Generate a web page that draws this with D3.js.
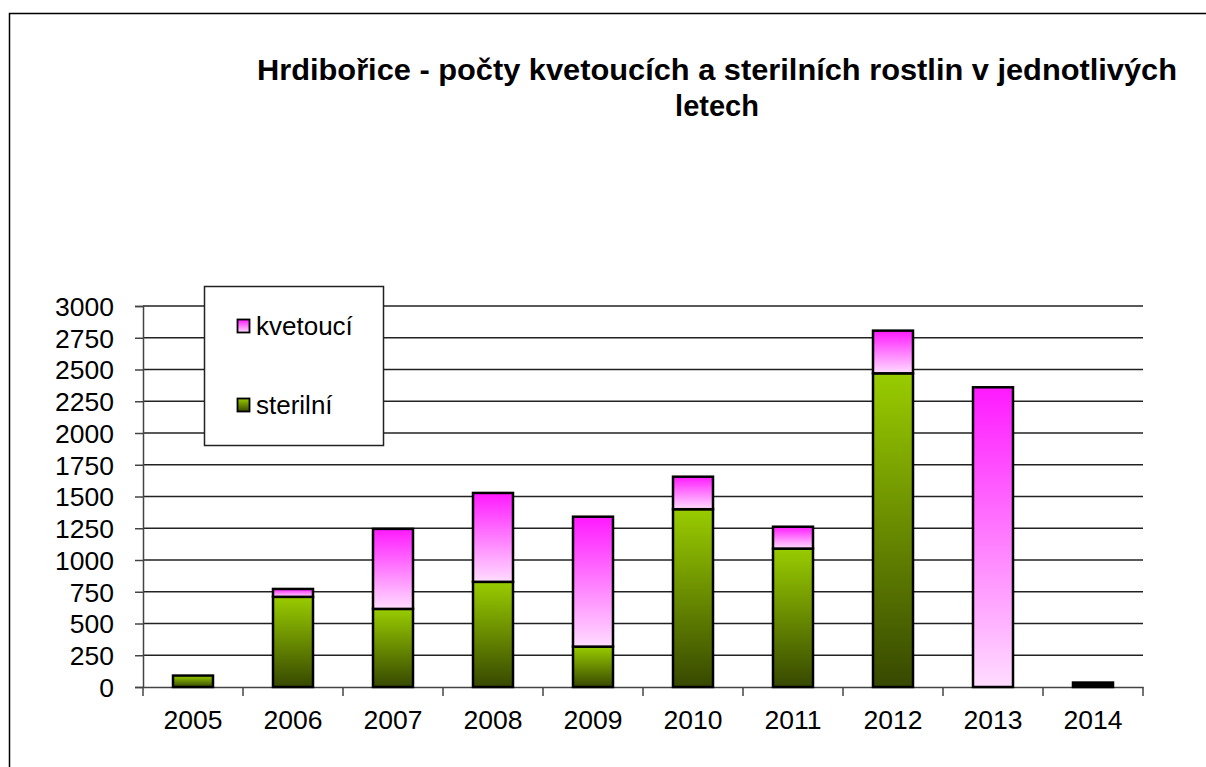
<!DOCTYPE html>
<html><head><meta charset="utf-8">
<script src="https://cdn.jsdelivr.net/npm/d3@7"></script>
<style>body{margin:0;background:#fff}svg{display:block}text{font-family:"Liberation Sans",Arial,sans-serif}</style>
</head><body>
<svg id="c" width="1206" height="767"></svg>
<script>
const years = ["2005","2006","2007","2008","2009","2010","2011","2012","2013","2014"];
const sterilni = [90, 710, 615, 828, 318, 1400, 1090, 2470, 0, 35];
const kvetouci = [0, 62, 630, 700, 1023, 256, 172, 336, 2360, 0];
const yTicks = [0,250,500,750,1000,1250,1500,1750,2000,2250,2500,2750,3000];
const seriesNames = ["kvetoucí","sterilní"];
const titleLines = ["Hrdibořice - počty kvetoucích a sterilních rostlin v jednotlivých","letech"];

const svg = d3.select("#c");
const defs = svg.append("defs");
function grad(id, top, bottom){
  const g = defs.append("linearGradient").attr("id",id).attr("x1",0).attr("y1",0).attr("x2",0).attr("y2",1);
  g.append("stop").attr("offset","0%").attr("stop-color",top);
  g.append("stop").attr("offset","100%").attr("stop-color",bottom);
}
grad("gK","#ff1aff","#ffdcff");
grad("gS","#99cc00","#374800");

// outer frame
svg.append("rect").attr("x",9.5).attr("y",13.5).attr("width",1210).attr("height",800)
  .attr("fill","none").attr("stroke","#000").attr("stroke-width",1.5);

const m = {l:143, r:1143, t:306, b:687};
const x = d3.scaleBand().domain(years).range([m.l,m.r]).paddingInner(0.6).paddingOuter(0.3);
const y = d3.scaleLinear().domain([0,3000]).range([m.b,m.t]);

// gridlines
svg.append("g").selectAll("line").data(yTicks.filter(d=>d>0)).join("line")
  .attr("x1",m.l).attr("x2",m.r).attr("y1",d=>y(d)).attr("y2",d=>y(d))
  .attr("stroke","#222").attr("stroke-width",1.3);

// y axis
const ya = svg.append("g").attr("transform",`translate(${m.l},0)`)
  .call(d3.axisLeft(y).tickValues(yTicks).tickSize(8).tickPadding(21).tickFormat(d3.format("d")));
ya.select(".domain").attr("stroke","#444").attr("stroke-width",1.5);
ya.selectAll(".tick line").attr("stroke","#444").attr("stroke-width",1.5);
ya.selectAll("text").attr("font-size",26.5).attr("fill","#000").attr("dy","0.35em");

// x axis
const xa = svg.append("g").attr("transform",`translate(0,${m.b})`)
  .call(d3.axisBottom(x).tickSize(0).tickPadding(23));
xa.select(".domain").attr("stroke","#444").attr("stroke-width",1.5);
xa.selectAll("text").attr("font-size",26.5).attr("fill","#000");
const step = x.step();
svg.append("g").selectAll("line").data(d3.range(years.length+1)).join("line")
  .attr("x1",i=>m.l+i*step).attr("x2",i=>m.l+i*step).attr("y1",m.b).attr("y2",m.b+9)
  .attr("stroke","#444").attr("stroke-width",1.5);

// bars
const data = years.map((yr,i)=>({yr, s:sterilni[i], k:kvetouci[i]}));
const bars = svg.append("g");
data.forEach(d=>{
  if(d.s>0) bars.append("rect").attr("x",x(d.yr)).attr("width",x.bandwidth())
    .attr("y",y(d.s)).attr("height",y(0)-y(d.s))
    .attr("fill", d.yr==="2014" ? "#000" : "url(#gS)").attr("stroke","#000").attr("stroke-width",2.5);
  if(d.k>0) bars.append("rect").attr("x",x(d.yr)).attr("width",x.bandwidth())
    .attr("y",y(d.s+d.k)).attr("height",y(d.s)-y(d.s+d.k))
    .attr("fill","url(#gK)").attr("stroke","#000").attr("stroke-width",2.5);
});

// legend
const lg = svg.append("g");
lg.append("rect").attr("x",204.5).attr("y",286.5).attr("width",179).attr("height",159)
  .attr("fill","#fff").attr("stroke","#222").attr("stroke-width",1.5);
const lgY = [326, 405];
seriesNames.forEach((n,i)=>{
  lg.append("rect").attr("x",237.5).attr("y",lgY[i]-6.5).attr("width",12).attr("height",13)
    .attr("fill", i===0 ? "url(#gK)" : "url(#gS)").attr("stroke","#000").attr("stroke-width",1.8);
  lg.append("text").attr("x",256).attr("y",lgY[i]).attr("dy","0.35em")
    .attr("font-size",26).text(n);
});

// title
svg.append("g").selectAll("text").data(titleLines).join("text")
  .attr("x",717).attr("y",(d,i)=>80+i*36).attr("text-anchor","middle")
  .attr("font-size",29).attr("font-weight","bold")
  .each(function(d,i){ if(i===0) d3.select(this).attr("textLength",920).attr("lengthAdjust","spacingAndGlyphs"); })
  .text(d=>d);
</script>
</body></html>
